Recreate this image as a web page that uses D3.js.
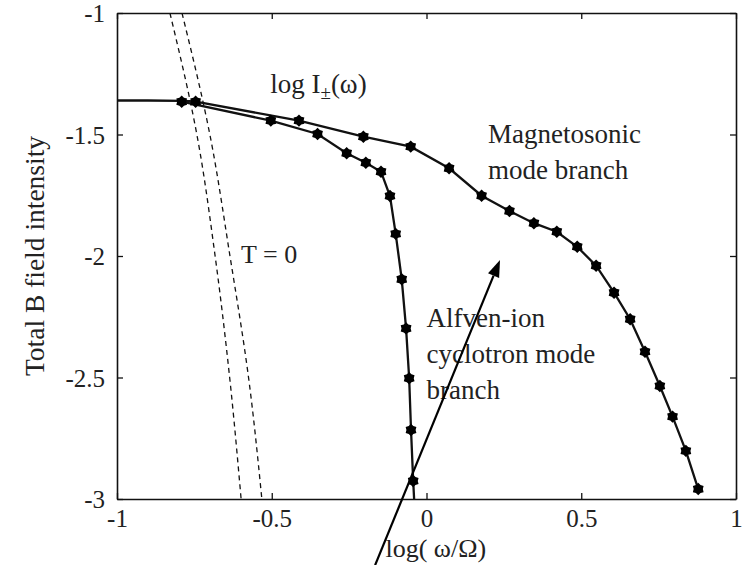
<!DOCTYPE html>
<html>
<head>
<meta charset="utf-8">
<script src="https://cdn.jsdelivr.net/npm/d3@7"></script>
<style>
  html, body { margin: 0; padding: 0; background: #fff; }
  svg { display: block; }
  text { font-family: "Liberation Serif", "Times New Roman", serif; fill: #222; }
</style>
</head>
<body>
<svg id="chart" width="743" height="565"></svg>
<script>
// ---- data ----
const xTicks = [-1, -0.5, 0, 0.5, 1];
const yTicks = [-1, -1.5, -2, -2.5, -3];
const xTickLabels = ["-1", "-0.5", "0", "0.5", "1"];
const yTickLabels = ["-1", "-1.5", "-2", "-2.5", "-3"];

// flat low-frequency part shared by both branches
const flatX = [-1, -0.9, -0.791, -0.746];
const flatY = [-1.360, -1.360, -1.362, -1.364];

// Alfven-ion cyclotron mode branch (markers)
const alfvenX = [-0.791, -0.503, -0.352, -0.258, -0.196, -0.147, -0.118, -0.0995, -0.080, -0.066, -0.056, -0.050, -0.043];
const alfvenY = [-1.365, -1.443, -1.498, -1.577, -1.616, -1.653, -1.753, -1.909, -2.096, -2.298, -2.503, -2.716, -2.926];
// line continues to the bottom axis without a marker
const alfvenEndX = [-0.040];
const alfvenEndY = [-3.0];

// Magnetosonic mode branch (markers)
const magX = [-0.746, -0.412, -0.204, -0.051, 0.073, 0.178, 0.268, 0.347, 0.421, 0.487, 0.548, 0.606, 0.658, 0.706, 0.754, 0.795, 0.838, 0.878];
const magY = [-1.365, -1.443, -1.509, -1.550, -1.639, -1.752, -1.815, -1.865, -1.900, -1.962, -2.040, -2.151, -2.260, -2.394, -2.535, -2.661, -2.802, -2.959];

// T = 0 dashed curves
const t0Y  = [-1.0, -1.5, -2.0, -2.5, -3.0];
const t0aX = [-0.829, -0.742, -0.683, -0.636, -0.599];
const t0bX = [-0.790, -0.700, -0.635, -0.575, -0.532];

// arrow annotation (data coordinates: tail, tip)
const arrowX = [-0.166, 0.2375];
const arrowY = [-3.272, -2.016];

// ---- layout ----
const W = 743, H = 565;
const m = { left: 117, right: 7, top: 13, bottom: 66 };
const svg = d3.select("#chart");
svg.append("rect").attr("width", W).attr("height", H).attr("fill", "#fff");

const x = d3.scaleLinear().domain([-1, 1]).range([m.left, W - m.right]);
const y = d3.scaleLinear().domain([-1, -3]).range([m.top, H - m.bottom]);

const zip = (xs, ys) => xs.map((v, i) => [v, ys[i]]);
const line = d3.line().x(d => x(d[0])).y(d => y(d[1]));
const smooth = d3.line().x(d => x(d[0])).y(d => y(d[1])).curve(d3.curveMonotoneY);

svg.append("defs").append("clipPath").attr("id", "clip")
  .append("rect").attr("x", x(-1)).attr("y", y(-1))
  .attr("width", x(1) - x(-1)).attr("height", y(-3) - y(-1));

const plot = svg.append("g").attr("clip-path", "url(#clip)");

// dashed T=0 curves
[t0aX, t0bX].forEach(xs => {
  plot.append("path").datum(zip(xs, t0Y)).attr("d", smooth)
    .attr("fill", "none").attr("stroke", "#111").attr("stroke-width", 1.3)
    .attr("stroke-dasharray", "5,4");
});

// branches
const stroke = "#111";
plot.append("path").datum(zip(flatX, flatY)).attr("d", line)
  .attr("fill", "none").attr("stroke", stroke).attr("stroke-width", 2.3);
plot.append("path").datum(zip(alfvenX.concat(alfvenEndX), alfvenY.concat(alfvenEndY))).attr("d", line)
  .attr("fill", "none").attr("stroke", stroke).attr("stroke-width", 2.3);
plot.append("path").datum(zip(magX, magY)).attr("d", line)
  .attr("fill", "none").attr("stroke", stroke).attr("stroke-width", 2.3);

// markers (hexagram-like)
const hexagram = (r) => {
  const p = [];
  for (let k = 0; k < 12; k++) {
    const a = Math.PI / 6 * k - Math.PI / 2;
    const rr = k % 2 === 0 ? r : r * 0.74;
    p.push([rr * Math.cos(a), rr * Math.sin(a)]);
  }
  return "M" + p.map(q => q.join(",")).join("L") + "Z";
};
const mk = hexagram(6.2);
svg.append("g").selectAll("path").data(zip(alfvenX, alfvenY).concat(zip(magX, magY)))
  .join("path")
  .attr("d", mk)
  .attr("transform", d => `translate(${x(d[0])},${y(d[1])})`)
  .attr("fill", "#000");

// ---- axes frame with inward ticks ----
const axes = svg.append("g");
const tickLen = 6;
const fs = 25;
const xAxisB = d3.axisBottom(x).tickValues(xTicks).tickSizeInner(-tickLen).tickSizeOuter(0)
  .tickPadding(14).tickFormat((d, i) => xTickLabels[i]);
const xAxisT = d3.axisTop(x).tickValues(xTicks).tickSizeInner(-tickLen).tickSizeOuter(0).tickFormat("");
const yAxisL = d3.axisLeft(y).tickValues(yTicks).tickSizeInner(-tickLen).tickSizeOuter(0)
  .tickPadding(12).tickFormat((d, i) => yTickLabels[i]);
const yAxisR = d3.axisRight(y).tickValues(yTicks).tickSizeInner(-tickLen).tickSizeOuter(0).tickFormat("");

const gb = axes.append("g").attr("transform", `translate(0,${y(-3)})`).call(xAxisB);
const gt = axes.append("g").attr("transform", `translate(0,${y(-1)})`).call(xAxisT);
const gl = axes.append("g").attr("transform", `translate(${x(-1)},0)`).call(yAxisL);
const gr = axes.append("g").attr("transform", `translate(${x(1)},0)`).call(yAxisR);
[gb, gt, gl, gr].forEach(g => {
  g.select(".domain").attr("stroke", "#111").attr("stroke-width", 1.6);
  g.selectAll(".tick line").attr("stroke", "#111").attr("stroke-width", 1.3);
  g.selectAll(".tick text").attr("font-family", "Liberation Serif, serif")
    .attr("font-size", fs).attr("fill", "#222");
});
gb.selectAll(".tick text").attr("dy", "0.55em");
gl.selectAll(".tick text").attr("dy", "0.34em");

// axis titles
svg.append("text").attr("x", x(0.03)).attr("y", 557).attr("text-anchor", "middle")
  .attr("font-size", 26).text("log( ω/Ω)");
svg.append("text").attr("transform", `translate(44,${y(-2.0)}) rotate(-90)`)
  .attr("text-anchor", "middle").attr("font-size", 27.5).text("Total B field intensity");

// annotations
const t1 = svg.append("text").attr("x", x(-0.505)).attr("y", y(-1.329)).attr("font-size", 27);
t1.append("tspan").text("log I");
t1.append("tspan").attr("font-size", 19).attr("dy", 6).text("±");
t1.append("tspan").attr("dy", -6).text("(ω)");

svg.append("text").attr("x", x(-0.599)).attr("y", y(-2.028)).attr("font-size", 26).text("T = 0");

const lab = (lines, x0, y0) => {
  const t = svg.append("text").attr("x", x(x0)).attr("y", y(y0)).attr("font-size", 27);
  lines.forEach((s, i) => t.append("tspan").attr("x", x(x0)).attr("dy", i === 0 ? 0 : 36).text(s));
};
lab(["Magnetosonic", "mode branch"], 0.199, -1.535);
lab(["Alfven-ion", "cyclotron mode", "branch"], 0.0, -2.292);

// arrow
const ax0 = x(arrowX[0]), ay0 = y(arrowY[0]), ax1 = x(arrowX[1]), ay1 = y(arrowY[1]);
const ang = Math.atan2(ay1 - ay0, ax1 - ax0);
const hl = 17, hw = 6;
const bx = ax1 - hl * Math.cos(ang), by = ay1 - hl * Math.sin(ang);
svg.append("line").attr("x1", ax0).attr("y1", ay0).attr("x2", bx).attr("y2", by)
  .attr("stroke", "#000").attr("stroke-width", 2.2);
svg.append("path")
  .attr("d", `M${ax1},${ay1}L${bx + hw * Math.sin(ang)},${by - hw * Math.cos(ang)}L${bx - hw * Math.sin(ang)},${by + hw * Math.cos(ang)}Z`)
  .attr("fill", "#000");
</script>
</body>
</html>
